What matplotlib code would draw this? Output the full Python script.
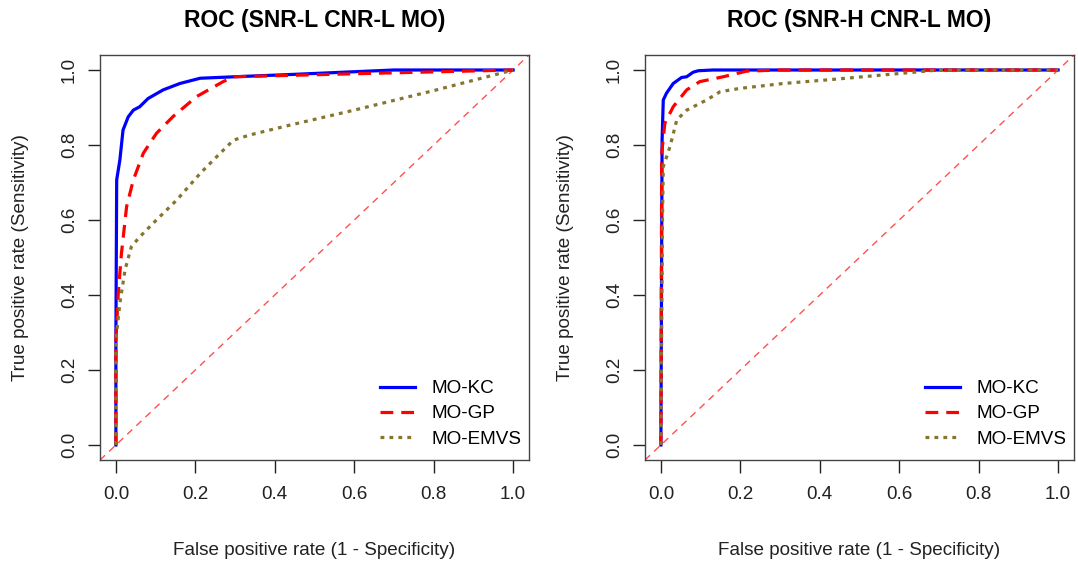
import numpy as np
import matplotlib
matplotlib.use("Agg")
import matplotlib.pyplot as plt

plt.rcParams['font.family'] = ['Liberation Sans', 'DejaVu Sans']

#
# ROC curves
#
titles = ["ROC (SNR-L CNR-L MO)", "ROC (SNR-H CNR-L MO)"]
labels = ["MO-KC", "MO-GP", "MO-EMVS"]

# SNR-L
kc_L_fpr = [0, 0, 0.002, 0.01, 0.018, 0.031, 0.044, 0.06, 0.081, 0.119, 0.161, 0.212, 0.30, 0.44, 0.70, 1.0]
kc_L_tpr = [0, 0.28, 0.707, 0.76, 0.84, 0.875, 0.893, 0.902, 0.924, 0.947, 0.964, 0.978, 0.982, 0.988, 1.0, 1.0]
gp_L_fpr = [0, 0, 0.006, 0.014, 0.027, 0.044, 0.069, 0.102, 0.144, 0.203, 0.27, 0.296, 0.45, 0.6, 0.8, 1.0]
gp_L_tpr = [0, 0.28, 0.405, 0.511, 0.636, 0.707, 0.778, 0.831, 0.876, 0.929, 0.969, 0.982, 0.986, 0.99, 0.995, 1.0]
em_L_fpr = [0, 0, 0.01, 0.023, 0.039, 0.06, 0.102, 0.153, 0.212, 0.254, 0.296, 0.338, 0.43, 0.6, 0.8, 1.0]
em_L_tpr = [0, 0.28, 0.378, 0.467, 0.529, 0.555, 0.6, 0.653, 0.724, 0.769, 0.813, 0.827, 0.851, 0.893, 0.945, 1.0]

# SNR-H
kc_H_fpr = [0, 0.003, 0.006, 0.014, 0.031, 0.052, 0.065, 0.081, 0.094, 0.131, 1.0]
kc_H_tpr = [0, 0.813, 0.92, 0.938, 0.964, 0.98, 0.982, 0.994, 0.998, 1.0, 1.0]
gp_H_fpr = [0, 0.002, 0.01, 0.031, 0.065, 0.098, 0.157, 0.216, 0.3, 1.0]
gp_H_tpr = [0, 0.778, 0.858, 0.902, 0.947, 0.969, 0.982, 0.997, 1.0, 1.0]
em_H_fpr = [0, 0.004, 0.006, 0.023, 0.04, 0.065, 0.115, 0.149, 0.199, 0.308, 0.434, 0.7, 1.0]
em_H_tpr = [0, 0.6, 0.742, 0.796, 0.867, 0.893, 0.92, 0.942, 0.951, 0.964, 0.975, 1.0, 1.0]

ticks = [0.0, 0.2, 0.4, 0.6, 0.8, 1.0]
tick_labels = ["0.0", "0.2", "0.4", "0.6", "0.8", "1.0"]

panels = [
    [(kc_L_fpr, kc_L_tpr), (gp_L_fpr, gp_L_tpr), (em_L_fpr, em_L_tpr)],
    [(kc_H_fpr, kc_H_tpr), (gp_H_fpr, gp_H_tpr), (em_H_fpr, em_H_tpr)],
]

colors = ["#0000ff", "#ff0000", "#86752f"]
styles = ["-", (0, (4, 2.5)), (0, (1.2, 1.6))]

fs = 13.6
fig = plt.figure(figsize=(10.78, 5.63), dpi=100)
lefts = [100/1078, 645/1078]
for i in range(2):
    ax = fig.add_axes([lefts[i], 103/563, 429/1078, 405/563])
    ax.plot([-0.04, 1.04], [-0.04, 1.04], color="#ff5050", lw=1.0, ls=(0, (5, 4)))
    for j in range(3):
        f, t = panels[i][j]
        ax.plot(f, t, color=colors[j], lw=2.3, ls=styles[j], label=labels[j])
    ax.set_xlim(-0.04, 1.04)
    ax.set_ylim(-0.04, 1.04)
    ax.set_xticks(ticks)
    ax.set_xticklabels(tick_labels)
    ax.set_yticks(ticks)
    ax.set_yticklabels(tick_labels, rotation=90, va="center")
    ax.tick_params(direction="out", length=9, width=1, labelsize=fs, pad=7, colors="#222222")
    ax.tick_params(axis="x", pad=10)
    for s in ax.spines.values():
        s.set_color("#444444")
        s.set_linewidth(1.0)
    ax.set_title(titles[i], fontsize=16.5, fontweight="bold", pad=20)
    ax.set_xlabel("False positive rate (1 - Specificity)", fontsize=fs, labelpad=28, color="#222222")
    ax.set_ylabel("True positive rate (Sensitivity)", fontsize=fs, labelpad=23, color="#222222")
    ax.legend(loc="lower right", bbox_to_anchor=(1.0, 0.012), frameon=False, fontsize=fs,
              handlelength=1.9, handletextpad=0.85, labelspacing=0.42, borderaxespad=0.0)

plt.savefig("out.png", dpi=100)
